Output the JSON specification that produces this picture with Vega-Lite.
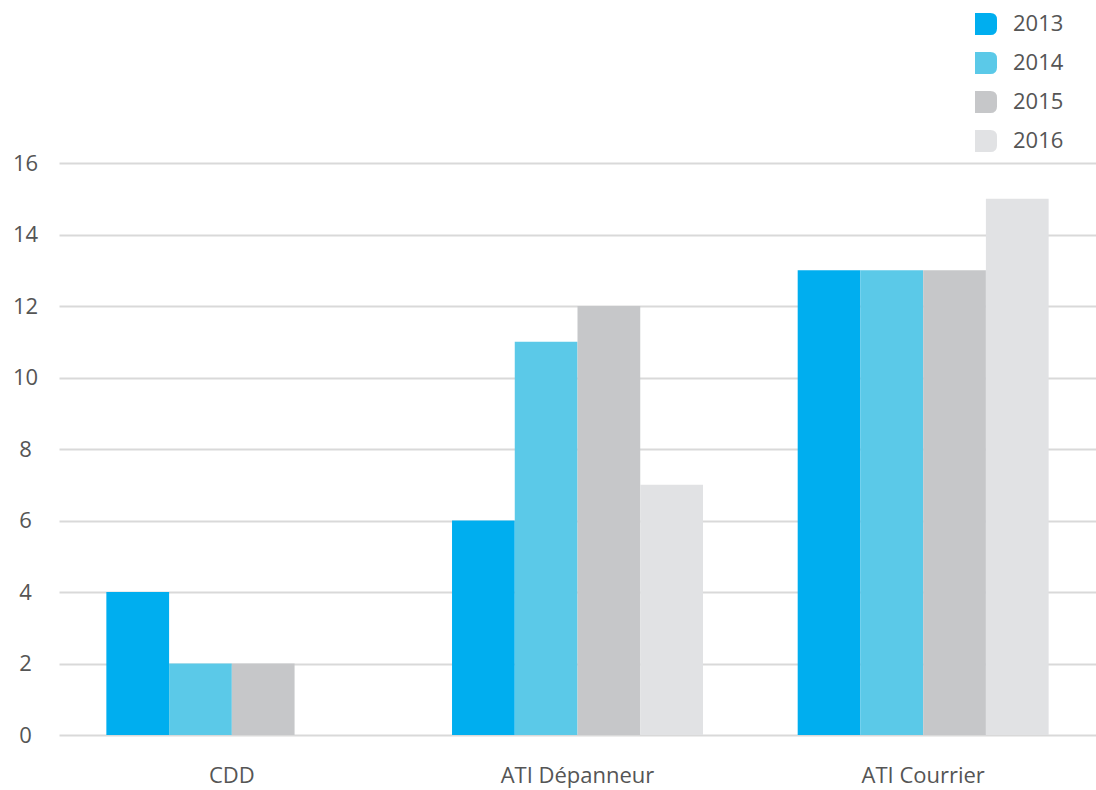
{
  "$schema": "https://vega.github.io/schema/vega-lite/v6.json",
  "autosize": "none",
  "width": 1037,
  "height": 572,
  "padding": {"left": 59, "top": 163, "right": 0, "bottom": 55},
  "background": "#ffffff",
  "config": {
    "view": {"stroke": null},
    "font": "Open Sans",
    "axis": {"labelFont": "Open Sans", "labelColor": "#555555", "labelFontSize": 22},
    "legend": {"labelFont": "Open Sans", "labelColor": "#555555", "labelFontSize": 22}
  },
  "data": {
    "values": [
      {"categorie": "CDD", "annee": "2013", "valeur": 4},
      {"categorie": "CDD", "annee": "2014", "valeur": 2},
      {"categorie": "CDD", "annee": "2015", "valeur": 2},
      {"categorie": "ATI Dépanneur", "annee": "2013", "valeur": 6},
      {"categorie": "ATI Dépanneur", "annee": "2014", "valeur": 11},
      {"categorie": "ATI Dépanneur", "annee": "2015", "valeur": 12},
      {"categorie": "ATI Dépanneur", "annee": "2016", "valeur": 7},
      {"categorie": "ATI Courrier", "annee": "2013", "valeur": 13},
      {"categorie": "ATI Courrier", "annee": "2014", "valeur": 13},
      {"categorie": "ATI Courrier", "annee": "2015", "valeur": 13},
      {"categorie": "ATI Courrier", "annee": "2016", "valeur": 15}
    ]
  },
  "mark": {"type": "bar"},
  "encoding": {
    "x": {
      "field": "categorie",
      "type": "nominal",
      "sort": ["CDD", "ATI Dépanneur", "ATI Courrier"],
      "scale": {"paddingInner": 0.274, "paddingOuter": 0.137},
      "axis": {
        "title": null,
        "domain": false,
        "ticks": false,
        "labelAngle": 0,
        "labelPadding": 30
      }
    },
    "xOffset": {
      "field": "annee",
      "type": "nominal",
      "scale": {"domain": ["2013", "2014", "2015", "2016"], "paddingInner": 0, "paddingOuter": 0}
    },
    "y": {
      "field": "valeur",
      "type": "quantitative",
      "scale": {"domain": [0, 16], "nice": false},
      "axis": {
        "title": null,
        "domain": false,
        "ticks": false,
        "values": [0, 2, 4, 6, 8, 10, 12, 14, 16],
        "labelAlign": "center",
        "labelPadding": 34,
        "gridColor": "#d9d9d9",
        "gridWidth": 2
      }
    },
    "color": {
      "field": "annee",
      "type": "nominal",
      "scale": {
        "domain": ["2013", "2014", "2015", "2016"],
        "range": ["#00aeef", "#5bc9e8", "#c6c7c9", "#e1e2e4"]
      },
      "legend": {
        "title": null,
        "orient": "none",
        "legendX": 916,
        "legendY": -150,
        "padding": 0,
        "symbolType": "M-1,-1 L0.4,-1 Q1,-1 1,-0.4 L1,0.4 Q1,1 0.4,1 L-1,1 Z",
        "symbolSize": 484,
        "symbolStrokeWidth": 0,
        "symbolOpacity": 1,
        "labelOffset": 16,
        "rowPadding": 17
      }
    }
  }
}
